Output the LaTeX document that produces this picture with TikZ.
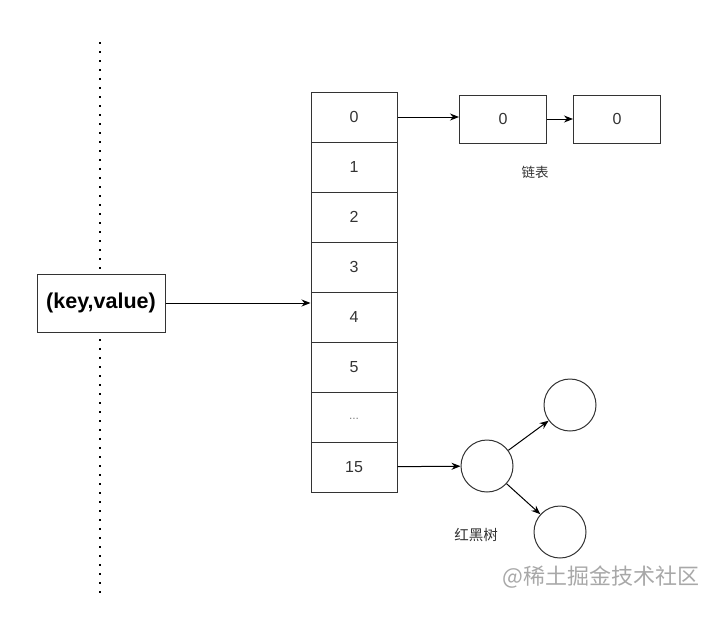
\documentclass[tikz,border=0pt]{standalone}
\usepackage{fontspec}
\setmainfont{Liberation Sans}
\newfontfamily\cjk{Noto Sans CJK SC}
\usetikzlibrary{arrows.meta,positioning}
\definecolor{linegray}{HTML}{333333}
\definecolor{markgray}{HTML}{A8A8A8}
\begin{document}
\begin{tikzpicture}[x=1pt,y=-1pt,
every node/.style={draw=linegray,line width=1pt,inner sep=0pt,text=linegray,font=\fontsize{16}{18}\selectfont},
cell/.style={minimum width=86pt,minimum height=50pt},
listbox/.style={minimum width=87pt,minimum height=48pt},
treenode/.style={circle,minimum size=52pt},
note/.style={draw=none,font=\cjk\fontsize{13.5}{15}\selectfont},
link/.style={draw=black,line width=1pt,-{Stealth[length=9pt,width=7pt]}}]
\useasboundingbox (0,0) rectangle (726,627);
\draw[line width=2pt,dash pattern=on 1.6pt off 7.4pt] (100,42) -- (100,598);
\node[minimum width=128pt,minimum height=58pt,text=black,font=\bfseries\fontsize{21.5}{24}\selectfont,fill=white] (KV) at (101,303) {(key,value)};
\node[cell] (B0) at (354,117) {0};
\node[cell] (B1) at (354,167) {1};
\node[cell] (B2) at (354,217) {2};
\node[cell] (B3) at (354,267) {3};
\node[cell] (B4) at (354,317) {4};
\node[cell] (B5) at (354,367) {5};
\node[cell,text=gray] (B6) at (354,417) {\fontsize{12}{14}\selectfont\raisebox{-5pt}{...}};
\node[cell] (B15) at (354,467) {15};
\node[listbox] (L1) at (503,119) {0};
\node[listbox] (L2) at (617,119) {0};
\node[note] (LL) at (535,172) {链表};
\node[treenode] (T0) at (487,466) {};
\node[treenode] (T1) at (570,405) {};
\node[treenode] (T2) at (560,532) {};
\node[note,font=\cjk\fontsize{14.5}{16}\selectfont] (RB) at (476,535) {红黑树};
\node[draw=none,text=markgray,font=\cjk\fontsize{22}{24}\selectfont] (WM) at (601,577) {@稀土掘金技术社区};
\coordinate (E4) at (B4.west |- KV.east);
\draw[link] (KV.east) -- (E4);
\draw[link] (B0.east) -- (L1.west |- B0.east);
\draw[link] (L1) -- (L2);
\draw[link] (B15) -- (T0);
\draw[link] (T0) -- (T1);
\draw[link] (T0) -- (T2);
\end{tikzpicture}
\end{document}
